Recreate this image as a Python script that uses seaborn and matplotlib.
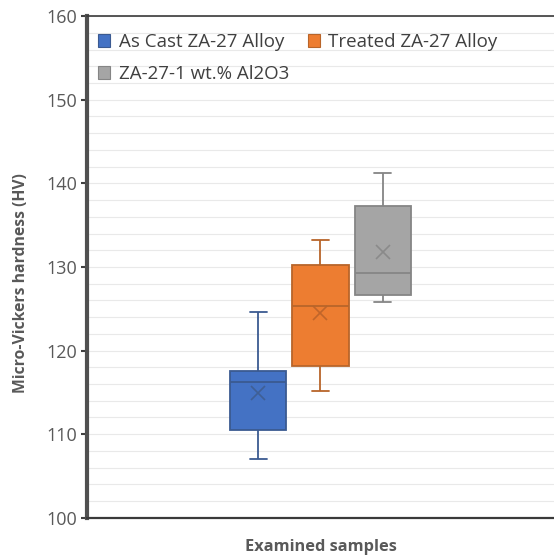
import numpy as np
import pandas as pd
import seaborn as sns
import matplotlib.pyplot as plt
import matplotlib.ticker as mtick
from matplotlib.patches import Patch

# ----------------------------
# Data
# ----------------------------
SERIES = ["As Cast ZA-27 Alloy", "Treated ZA-27 Alloy", "ZA-27-1 wt.% Al2O3"]
# five-number summaries: min, Q1, median, Q3, max
AS_CAST = [107.0, 110.5, 116.2, 117.6, 124.6]
TREATED = [115.2, 118.2, 125.3, 130.2, 133.2]
AL2O3 = [125.8, 126.6, 129.3, 137.3, 141.2]
MEANS = [114.9, 124.5, 131.8]

FILLS = ["#4472C4", "#ED7D31", "#A5A5A5"]
EDGES = ["#3B5A91", "#B8652A", "#858585"]
MEAN_COLORS = ["#3F5F95", "#C0652A", "#8A8A8A"]

df = pd.DataFrame({
    "group": [""] * 15,
    "series": [s for s in SERIES for _ in range(5)],
    "hardness": AS_CAST + TREATED + AL2O3,
})
df_mean = pd.DataFrame({"group": [""] * 3, "series": SERIES, "mean": MEANS})

# ----------------------------
# Style
# ----------------------------
sns.set_theme(style="white")
plt.rcParams["font.family"] = ["Open Sans", "DejaVu Sans"]

fig = plt.figure(figsize=(5.54, 5.55), dpi=100)
ax = fig.add_axes([0.157, 0.067, 0.843, 0.904])

fill_pal = dict(zip(SERIES, FILLS))
for name, edge in zip(SERIES, EDGES):
    sns.boxplot(
        data=df[df["series"] == name],
        x="group", y="hardness",
        hue="series", hue_order=SERIES, palette=fill_pal,
        dodge=True, width=0.4, gap=0.1,
        saturation=1, linecolor=edge, linewidth=1.3,
        showfliers=False, legend=False, ax=ax,
    )

# narrower whisker caps, like the Excel original
for line in ax.lines:
    x = np.asarray(line.get_xdata(), dtype=float)
    y = np.asarray(line.get_ydata(), dtype=float)
    if len(x) == 2 and y[0] == y[1] and abs(x[1] - x[0]) < 0.09:
        mid = x.mean()
        line.set_xdata([mid - 0.018, mid + 0.018])

sns.pointplot(
    data=df_mean, x="group", y="mean",
    hue="series", hue_order=SERIES, palette=dict(zip(SERIES, MEAN_COLORS)),
    markers="x", linestyle="none", dodge=0.4 * 2 / 3,
    errorbar=None, markersize=10.5, markeredgewidth=1.2,
    legend=False, ax=ax,
)

# ----------------------------
# Axes
# ----------------------------
ax.set_xlim(-0.5, 0.5)
ax.set_ylim(100, 160)
ax.yaxis.set_major_locator(mtick.MultipleLocator(10))
ax.yaxis.set_minor_locator(mtick.MultipleLocator(2))
ax.grid(axis="y", which="both", color="#E9E9E9", linewidth=0.8)
ax.set_axisbelow(True)
ax.set_xticks([])
ax.tick_params(axis="y", which="major", left=True, length=4, width=1.5,
               color="#404040", labelsize=13, labelcolor="#595959", pad=3)
ax.tick_params(axis="y", which="minor", left=False)

for side in ["left", "bottom", "top"]:
    ax.spines[side].set_color("#3A3A3A")
ax.spines["left"].set_color("#505050")
ax.spines["left"].set_linewidth(3.0)
ax.spines["bottom"].set_linewidth(1.6)
ax.spines["top"].set_linewidth(1.2)
ax.spines["right"].set_visible(False)

ax.set_ylabel("Micro-Vickers hardness (HV)", fontsize=11.3, fontweight="bold",
              color="#595959")
ax.yaxis.set_label_coords(-0.125, 0.468)
ax.set_xlabel("Examined samples", fontsize=11.8, fontweight="bold",
              color="#595959", labelpad=15)

# legend filled row by row: As Cast, Treated / Al2O3
handles = [Patch(facecolor=f, edgecolor=e, linewidth=0.8) for f, e in zip(FILLS, EDGES)]
order = [0, 2, 1]
ax.legend(
    [handles[i] for i in order], [SERIES[i] for i in order],
    ncol=2, loc="upper left", bbox_to_anchor=(-0.012, 1.0),
    frameon=False, fontsize=13.5, labelcolor="#404040",
    handlelength=0.65, handleheight=0.65, handletextpad=0.45,
    labelspacing=0.75, columnspacing=1.0,
)

plt.savefig("out.png", dpi=100)
plt.close()
